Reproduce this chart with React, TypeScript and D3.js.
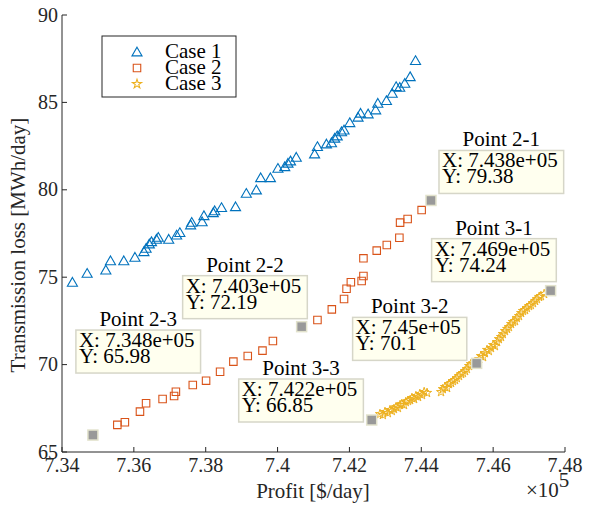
import React, { useEffect, useRef } from "react";
import * as d3 from "d3";

// values (x in units of 1e5 $/day)
const xTicks = [7.34, 7.36, 7.38, 7.4, 7.42, 7.44, 7.46, 7.48];
const yTicks = [65, 70, 75, 80, 85, 90];

const seriesNames = ["Case 1", "Case 2", "Case 3"];

const case1: [number, number][] = [
  [7.3429, 74.71], [7.347, 75.22], [7.3522, 75.41], [7.3535, 75.94], [7.3572, 75.94],
  [7.3603, 76.14], [7.3628, 76.46], [7.3634, 76.65], [7.3643, 76.9], [7.3649, 77.03],
  [7.3663, 77.17], [7.3668, 77.28], [7.3697, 77.17], [7.3719, 77.41], [7.3728, 77.55],
  [7.3758, 77.99], [7.3761, 78.14], [7.379, 78.17], [7.3795, 78.52], [7.3821, 78.69],
  [7.3825, 78.8], [7.3844, 78.98], [7.3883, 79.03], [7.3913, 79.8], [7.3941, 79.99],
  [7.3953, 80.69], [7.398, 80.69], [7.4001, 81.23], [7.402, 81.32], [7.4029, 81.52],
  [7.4036, 81.65], [7.4052, 81.86], [7.4103, 82.05], [7.4111, 82.47], [7.4136, 82.62],
  [7.415, 82.69], [7.4159, 82.95], [7.4166, 83.08], [7.4178, 83.32], [7.4185, 83.42],
  [7.4201, 83.84], [7.4224, 84.15], [7.4231, 84.38], [7.4252, 84.34], [7.4273, 84.57],
  [7.4279, 84.95], [7.4303, 85.1], [7.4319, 85.52], [7.433, 85.9], [7.434, 85.86],
  [7.4354, 86.09], [7.4369, 86.47], [7.4384, 87.39],
];

const case2: [number, number][] = [
  [7.3486, 65.97], [7.3554, 66.55], [7.3575, 66.7], [7.3617, 67.31], [7.3634, 67.79],
  [7.368, 68.03], [7.3712, 68.2], [7.3717, 68.45], [7.3764, 68.83], [7.3801, 69.08],
  [7.384, 69.59], [7.3877, 70.17], [7.3917, 70.49], [7.3958, 70.8], [7.3987, 71.35],
  [7.4067, 72.17], [7.4111, 72.55], [7.4151, 73.16], [7.4185, 73.75], [7.4192, 74.34],
  [7.4204, 74.71], [7.4234, 74.78], [7.4239, 75.07], [7.4239, 76.08], [7.4276, 76.52],
  [7.4304, 76.84], [7.4339, 77.26], [7.4341, 78.12], [7.4362, 78.33], [7.4401, 78.84],
  [7.4427, 79.39],
];

const case3: [number, number][] = [
  [7.4262, 66.83], [7.4285, 67.17], [7.4293, 67.12], [7.4299, 67.29], [7.4307, 67.23],
  [7.4313, 67.4], [7.4318, 67.35], [7.4324, 67.46], [7.433, 67.57], [7.4335, 67.52],
  [7.4341, 67.69], [7.4346, 67.75], [7.4352, 67.69], [7.4357, 67.86], [7.4363, 67.92],
  [7.4369, 67.97], [7.4374, 68.09], [7.438, 68.03], [7.4385, 68.2], [7.4391, 68.15],
  [7.4396, 68.32], [7.4402, 68.26], [7.4408, 68.43], [7.4416, 68.38],
  [7.4455, 68.43], [7.446, 68.6], [7.4466, 68.72], [7.4472, 68.66], [7.4477, 68.89],
  [7.4483, 68.95], [7.4488, 69.06], [7.4494, 69.12], [7.4499, 69.23], [7.4505, 69.35],
  [7.4511, 69.46], [7.4516, 69.52], [7.4522, 69.63], [7.4527, 69.75], [7.4533, 69.92],
  [7.4538, 70.03], [7.4547, 70.03], [7.4554, 70.07], [7.4561, 70.32], [7.4566, 70.49],
  [7.4572, 70.43], [7.4577, 70.66], [7.4583, 70.84], [7.4588, 70.78], [7.4594, 70.95],
  [7.46, 71.12], [7.4605, 71.06], [7.4611, 71.29], [7.4616, 71.46], [7.4622, 71.58],
  [7.4627, 71.75], [7.4633, 71.92], [7.4639, 72.04], [7.4644, 72.15], [7.465, 72.32],
  [7.4655, 72.44], [7.4661, 72.49], [7.4666, 72.67], [7.4672, 72.78], [7.4678, 72.95],
  [7.4683, 73.07], [7.4689, 73.12], [7.4694, 73.24], [7.47, 73.35], [7.4705, 73.41],
  [7.4711, 73.52], [7.4717, 73.64], [7.4722, 73.75], [7.4728, 73.87], [7.4733, 73.92],
  [7.4742, 74.04], [7.476, 74.23],
];

// data tips
const tipNames = ["Point 2-1", "Point 2-2", "Point 2-3", "Point 3-1", "Point 3-2", "Point 3-3"];
const tipPoints: [number, number][] = [
  [7.4427, 79.39], [7.4067, 72.17], [7.3486, 65.97],
  [7.476, 74.23], [7.4554, 70.07], [7.4262, 66.83],
];
const tipX = ["7.438e+05", "7.403e+05", "7.348e+05", "7.469e+05", "7.45e+05", "7.422e+05"];
const tipY = ["79.38", "72.19", "65.98", "74.24", "70.1", "66.85"];

const W = 614, H = 506;
const FONT = "'Liberation Serif', 'Times New Roman', serif";
const colors = ["#0072BD", "#D95319", "#EDB120"];
// box top-left relative to the marker (px)
const tipBoxOffset = [[8, -50], [-119, -51], [-17, -105], [-119, -52], [-124, -46], [-133, -41]];

const App = () => {
  const ref = useRef<SVGSVGElement>(null);

  useEffect(() => {
    const svg = d3.select(ref.current);
    svg.selectAll("*").remove();

    const x = d3.scaleLinear().domain([7.34, 7.48]).range([62, 565]);
    const y = d3.scaleLinear().domain([65, 90]).range([452, 15]);

    const tri = d3.symbol().type(d3.symbolTriangle).size(44);
    const sq = d3.symbol().type(d3.symbolSquare).size(56);
    const star = d3.symbol().type(d3.symbolStar).size(26);
    const shapes = [tri, sq, star];

    [case1, case2, case3].forEach((data, i) => {
      svg.append("g")
        .selectAll("path")
        .data(data)
        .enter()
        .append("path")
        .attr("d", shapes[i]() as string)
        .attr("transform", d => `translate(${x(d[0])},${y(d[1]) + (i === 0 ? 1 : 0)})`)
        .attr("fill", "none")
        .attr("stroke", colors[i])
        .attr("stroke-width", i === 2 ? 1 : 1.1);
    });

    // axes
    const ax = svg.append("g").attr("font-family", FONT).attr("font-size", 20).attr("fill", "#262626");
    ax.append("path").attr("d", `M62,15V452H565`).attr("fill", "none").attr("stroke", "#262626").attr("stroke-width", 1);
    ax.selectAll(".yt").data(yTicks).enter().append("path")
      .attr("d", d => `M62,${y(d)}h5`).attr("stroke", "#262626");
    ax.selectAll(".xt").data(xTicks).enter().append("path")
      .attr("d", d => `M${x(d)},452v-5`).attr("stroke", "#262626");
    ax.selectAll(".yl").data(yTicks).enter().append("text")
      .attr("x", 58).attr("y", d => y(d)).attr("dy", "0.33em").attr("text-anchor", "end")
      .text(d => String(d));
    ax.selectAll(".xl").data(xTicks).enter().append("text")
      .attr("x", d => x(d)).attr("y", 472).attr("text-anchor", "middle")
      .text(d => String(d));
    const ex = ax.append("text").attr("x", 526).attr("y", 497).attr("font-size", 21);
    ex.append("tspan").text("×10");
    ex.append("tspan").attr("dy", -10).text("5");
    ax.append("text").attr("x", 313).attr("y", 498).attr("text-anchor", "middle")
      .attr("font-size", 21).text("Profit [$/day]");
    ax.append("text").attr("transform", "translate(25,245) rotate(-90)").attr("text-anchor", "middle")
      .attr("font-size", 21).text("Transmission loss [MWh/day]");

    // data tips
    const tips = svg.append("g").attr("font-family", FONT).attr("font-size", 21).attr("fill", "#000");
    tipPoints.forEach((p, i) => {
      const mx = x(p[0]), my = y(p[1]);
      tips.append("rect").attr("x", mx - 5).attr("y", my - 5).attr("width", 10).attr("height", 10)
        .attr("fill", "#999").attr("stroke", "#e2e2cc").attr("stroke-width", 1.5);
      const bx = mx + tipBoxOffset[i][0], by = my + tipBoxOffset[i][1];
      const box = tips.append("rect").attr("x", bx).attr("y", by).attr("height", 43)
        .attr("fill", "#ffffef").attr("stroke", "#d6d6c8").attr("stroke-width", 1.5);
      const t1 = tips.append("text").attr("x", bx + 3).attr("y", by + 17).text(`X: ${tipX[i]}`);
      tips.append("text").attr("x", bx + 3).attr("y", by + 33).text(`Y: ${tipY[i]}`);
      const tw = (t1.node() as SVGTextElement).getComputedTextLength();
      const bw = tw + 9;
      box.attr("width", bw);
      tips.append("text").attr("x", bx + bw / 2).attr("y", by - 4).attr("text-anchor", "middle")
        .text(tipNames[i]);
    });

    // legend
    const lg = svg.append("g").attr("font-family", FONT).attr("font-size", 21);
    lg.append("rect").attr("x", 102).attr("y", 36).attr("width", 134).attr("height", 61)
      .attr("fill", "#fff").attr("stroke", "#262626").attr("stroke-width", 1);
    seriesNames.forEach((name, i) => {
      const ly = 52 + i * 16;
      lg.append("path").attr("d", shapes[i]() as string)
        .attr("transform", `translate(137,${ly + (i === 0 ? 1 : 0)})`)
        .attr("fill", "none").attr("stroke", colors[i]).attr("stroke-width", 1.1);
      lg.append("text").attr("x", 165).attr("y", ly + 6).attr("fill", "#000").text(name);
    });
  }, []);

  return (
    <svg ref={ref} width={W} height={H} style={{ position: "absolute", left: 0, top: 0, background: "#fff" }} />
  );
};

export default App;
